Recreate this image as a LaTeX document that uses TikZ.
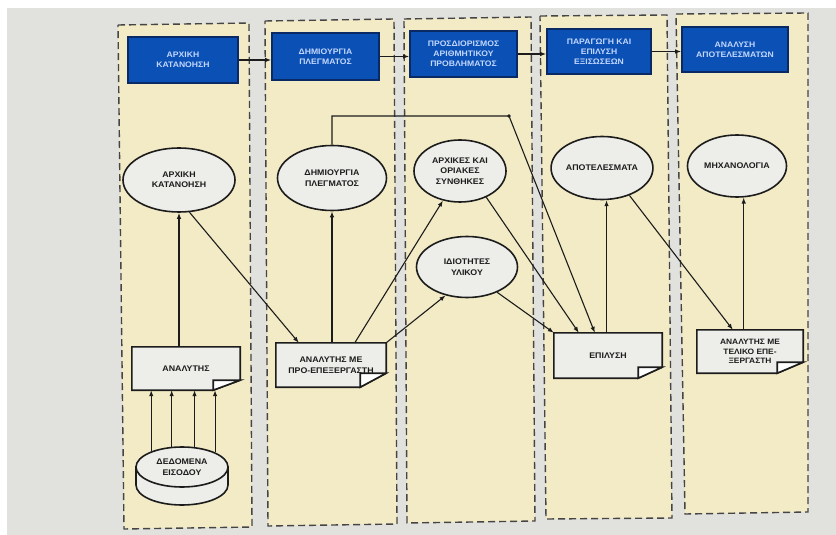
\documentclass[tikz,border=0pt]{standalone}
\usepackage{fontspec}
\setmainfont{Liberation Sans}
\newfontfamily\diafont[FakeStretch=1.08]{Liberation Sans}
\usetikzlibrary{shapes.geometric,arrows.meta,calc}
\definecolor{pagebg}{HTML}{E1E1DD}
\definecolor{colfill}{HTML}{F2EBC6}
\definecolor{colline}{HTML}{454545}
\definecolor{hdrfill}{HTML}{0A50B5}
\definecolor{hdrline}{HTML}{0A2A66}
\definecolor{hdrtext}{HTML}{C4D8FF}
\definecolor{shapefill}{HTML}{EDEDE9}
\definecolor{inkc}{HTML}{1C1C1C}
\pgfdeclarelayer{back}
\pgfdeclarelayer{bg}
\pgfsetlayers{back,bg,main}
\tikzset{
 colbox/.style={fill=colfill,draw=colline,line width=1.4bp,dash pattern=on 7bp off 4bp},
 hdr/.style={rectangle,fill=hdrfill,draw=hdrline,line width=1.6bp,text=hdrtext,
   font=\diafont\bfseries\fontsize{8}{10}\selectfont,align=center,inner sep=0pt},
 ell/.style={ellipse,draw=inkc,line width=1.6bp,fill=shapefill,
   font=\diafont\bfseries\fontsize{8.2}{10.5}\selectfont,align=center,inner sep=0pt,text=inkc},
 doc/.style={rectangle,inner sep=0pt,font=\diafont\bfseries\fontsize{8.2}{10.5}\selectfont,
   align=center,text=inkc},
 docline/.style={draw=inkc,line width=1.6bp,fill=shapefill},
 arr/.style={draw=inkc,line width=1.1bp,-{Latex[length=6bp,width=4.5bp]}},
}
\newcommand\docshape[3]{%
 \begin{pgfonlayer}{bg}
 \path[docline] (#1.north west) -- (#1.north east) -- ($(#1.south east)+(0,-#3)$)
   -- ($(#1.south east)+(-#2,0)$) -- (#1.south west) -- cycle;
 \path[docline,fill=white] ($(#1.south east)+(-#2,0)$) -- ($(#1.south east)+(-#2,-#3)$)
   -- ($(#1.south east)+(0,-#3)$) -- cycle;
 \end{pgfonlayer}}
\begin{document}
\begin{tikzpicture}[x=1bp,y=-1bp]
\useasboundingbox (0,0) rectangle (836,535);
\begin{pgfonlayer}{back}
\fill[white] (0,0) rectangle (836,535);
\fill[pagebg] (7,8) rectangle (836,535);
\path[colbox] (118,25) -- (249,23) -- (252,527) -- (124,529) -- cycle;
\path[colbox] (265,21) -- (394,19) -- (397,524) -- (268,526) -- cycle;
\path[colbox] (404,19) -- (531,17) -- (535,521) -- (407,523) -- cycle;
\path[colbox] (540,16) -- (667,15) -- (672,518) -- (546,519) -- cycle;
\path[colbox] (676,14) -- (808,13) -- (808,512) -- (685,514) -- cycle;
\end{pgfonlayer}

% header boxes
\node[hdr,minimum width=110bp,minimum height=46bp] (B1) at (183,60) {ΑΡΧΙΚΗ\\ΚΑΤΑΝΟΗΣΗ};
\node[hdr,minimum width=107bp,minimum height=47bp] (B2) at (325.5,56.5) {ΔΗΜΙΟΥΡΓΙΑ\\ΠΛΕΓΜΑΤΟΣ};
\node[hdr,minimum width=107bp,minimum height=46bp] (B3) at (463.5,54) {ΠΡΟΣΔΙΟΡΙΣΜΟΣ\\ΑΡΙΘΜΗΤΙΚΟΥ\\ΠΡΟΒΛΗΜΑΤΟΣ};
\node[hdr,minimum width=104bp,minimum height=45bp] (B4) at (599,51.5) {ΠΑΡΑΓΩΓΗ ΚΑΙ\\ΕΠΙΛΥΣΗ\\ΕΞΙΣΩΣΕΩΝ};
\node[hdr,minimum width=106bp,minimum height=45bp] (B5) at (735,49.5) {ΑΝΑΛΥΣΗ\\ΑΠΟΤΕΛΕΣΜΑΤΩΝ};

% ellipses
\node[ell,minimum width=112bp,minimum height=64bp] (E1) at (179,180) {ΑΡΧΙΚΗ\\ΚΑΤΑΝΟΗΣΗ};
\node[ell,minimum width=109bp,minimum height=65bp] (E2) at (332,178) {ΔΗΜΙΟΥΡΓΙΑ\\ΠΛΕΓΜΑΤΟΣ};
\node[ell,minimum width=92bp,minimum height=62bp] (E3) at (460,171) {ΑΡΧΙΚΕΣ ΚΑΙ\\ΟΡΙΑΚΕΣ\\ΣΥΝΘΗΚΕΣ};
\node[ell,minimum width=101bp,minimum height=61bp] (E4) at (467,267) {ΙΔΙΟΤΗΤΕΣ\\ΥΛΙΚΟΥ};
\node[ell,minimum width=101bp,minimum height=63bp] (E5) at (602,168) {ΑΠΟΤΕΛΕΣΜΑΤΑ};
\node[ell,minimum width=99bp,minimum height=62bp] (E6) at (737,166) {ΜΗΧΑΝΟΛΟΓΙΑ};

% documents
\node[doc,minimum width=108bp,minimum height=43bp] (D1) at (186,368.5) {ΑΝΑΛΥΤΗΣ};
\node[doc,minimum width=110bp,minimum height=44bp] (D2) at (331,365) {ΑΝΑΛΥΤΗΣ ΜΕ\\ΠΡΟ-ΕΠΕΞΕΡΓΑΣΤΗ};
\node[doc,minimum width=108bp,minimum height=45bp] (D3) at (608,355.5) {ΕΠΙΛΥΣΗ};
\node[doc,minimum width=106bp,minimum height=43bp,font=\diafont\bfseries\fontsize{7.8}{9.3}\selectfont] (D4) at (750,351.5) {ΑΝΑΛΥΤΗΣ ΜΕ\\ΤΕΛΙΚΟ ΕΠΕ-\\ΞΕΡΓΑΣΤΗ};
\docshape{D1}{27}{10}
\docshape{D2}{26}{14}
\docshape{D3}{24}{11}
\docshape{D4}{26}{11}

% cylinder
\path[docline] (136,467) -- (136,485) arc[start angle=180,end angle=360,x radius=46bp,y radius=20bp] -- (228,467) -- cycle;
\node[ell,minimum width=92bp,minimum height=40bp] (C) at (182,467) {ΔΕΔΟΜΕΝΑ\\ΕΙΣΟΔΟΥ};

% header arrows
\draw[arr] (B1.east) -- (B1.east -| B2.west);
\draw[arr] (B2.east) -- (B2.east -| B3.west);
\draw[arr] (B3.east) -- (B3.east -| B4.west);
\draw[arr] (B4.east) -- (B4.east -| B5.west);

% connectors
\foreach \a in {153,117,58,24} {\draw[arr] (C.\a) -- (C.\a |- D1.south);}
\draw[arr] (E1.south |- D1.north) -- (E1.south);
\draw[arr] (E1.-72) -- ($(D2.north west)+(23,0)$);
\draw[arr] (E2.south |- D2.north) -- (E2.south);
\draw[arr] ($(D2.north west)+(79,0)$) -- (E3.240);
\draw[arr] (D2.north east) -- (E4.233);
\coordinate (K) at (509,116);
\draw[arr] (E2.north) |- (K) -- ($(D3.north west)+(41,0)$);
\fill[inkc] (K) circle (1.8bp);
\draw[arr] (E3.-45) -- ($(D3.north west)+(25,0)$);
\draw[arr] (E4.-40) -- (D3.north west);
\draw[arr] (E5.-82 |- D3.north) -- (E5.-82);
\draw[arr] (E5.-45) -- ($(D4.north west)+(36,0)$);
\draw[arr] (E6.-78 |- D4.north) -- (E6.-78);
\end{tikzpicture}
\end{document}
